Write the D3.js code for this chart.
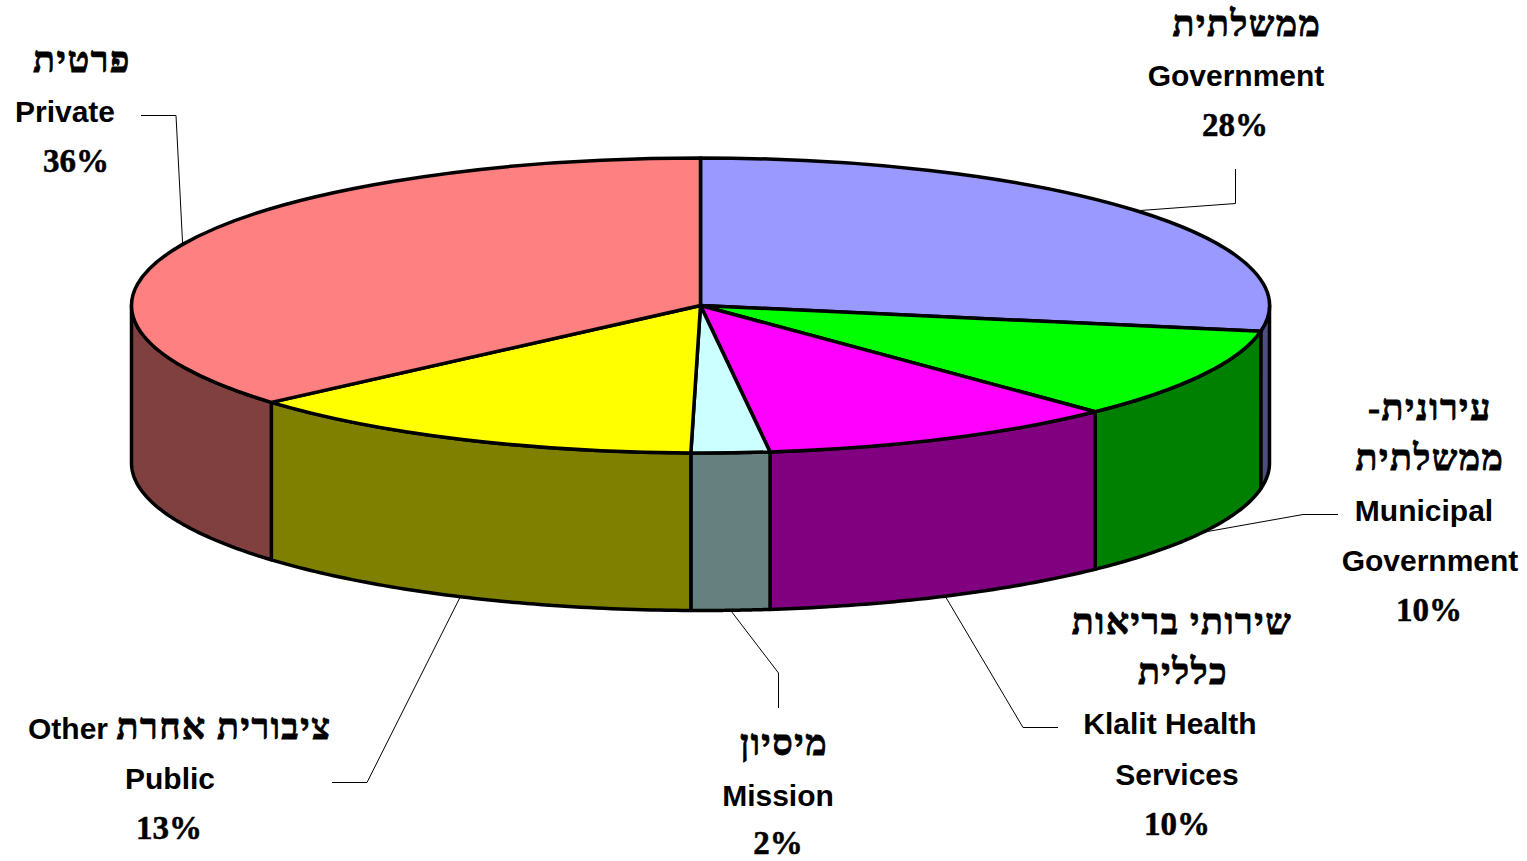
<!DOCTYPE html>
<html>
<head>
<meta charset="utf-8">
<title>pie</title>
<script src="https://cdnjs.cloudflare.com/ajax/libs/d3/7.8.5/d3.min.js"></script>
<style>
  html, body { margin: 0; padding: 0; background: #fff; }
  svg { display: block; }
  .top, .side { stroke: #000; stroke-width: 3.5px; stroke-linejoin: round; vector-effect: non-scaling-stroke; }
  .leader { fill: none; stroke: #000; stroke-width: 1px; }
  .he { font-family: "Liberation Serif", serif; font-weight: bold; font-size: 36px; letter-spacing: 1.5px; stroke: #000; stroke-width: 0.8px; direction: rtl; }
  .en { font-family: "Liberation Sans", sans-serif; font-weight: bold; font-size: 30px; }
  .pct { font-family: "Liberation Serif", serif; font-weight: bold; font-size: 33px; stroke: #000; stroke-width: 0.5px; }
</style>
</head>
<body>
<div id="chart"></div>
<script>
(function(){

  //chart values, shares (printed labels are rounded)
  var categories = ["Government", "Municipal Government", "Klalit Health Services", "Mission", "Other Public", "Private"];
  var shares = [27.8, 10.0, 10.25, 2.22, 13.33, 36.4];
  var percentLabels = ["28%", "10%", "10%", "2%", "13%", "36%"];
  var hebrewLines = [["ממשלתית"], ["עירונית-", "ממשלתית"], ["שירותי בריאות", "כללית"], ["מיסיון"], ["ציבורית אחרת"], ["פרטית"]];
  var englishLines = [["Government"], ["Municipal", "Government"], ["Klalit Health", "Services"], ["Mission"], ["Other", "Public"], ["Private"]];
  var topColors = ["#9999ff", "#00ff00", "#ff00ff", "#ccffff", "#ffff00", "#ff8080"];
  var sideColors = ["#4d4d80", "#008000", "#800080", "#668080", "#808000", "#804040"];

  //frame and pie dimensions
  var width = 1527,
      height = 861,
      cx = 700.5,
      cy = 305.5,
      rx = 569,
      ry = 147.5,
      depth = 157.5;

  //leader line elbow and end for each slice
  var leaders = [
    [[1235.5, 203.5], [1235.5, 169]],
    [[1303, 514.5], [1338, 514.5]],
    [[1023, 727.5], [1058, 727.5]],
    [[778.5, 673], [778.5, 708]],
    [[367, 782.5], [332, 782.5]],
    [[176, 115.5], [141, 115.5]]
  ];

  //label lines, one x and baseline for each line in reading order hebrew, english, percent
  var labelPlaces = [
    [[1247, 36], [1236, 86], [1235, 136]],
    [[1430, 420], [1430, 470], [1424, 521], [1430, 571], [1429, 621]],
    [[1182, 634], [1183, 684], [1170, 734], [1177, 785], [1177, 835]],
    [[784, 755], [778, 806], [778, 854]],
    [[224, 739], [68, 739], [170, 789], [169, 839]],
    [[82, 72], [65, 122], [76, 172]]
  ];

  var svg = d3.select("#chart")
    .append("svg")
    .attr("width", width)
    .attr("height", height);

  //pie layout keeps the data order, clockwise from twelve o'clock
  var pie = d3.pie().sort(null).value(function(d){ return d; });
  var slices = pie(shares);

  //ellipse scales from unit circle to the page
  var xScale = d3.scaleLinear().domain([-1, 1]).range([cx - rx, cx + rx]);
  var yScale = d3.scaleLinear().domain([-1, 1]).range([cy - ry, cy + ry]);

  function rimPoint(angle, drop){
    return [xScale(Math.sin(angle)), yScale(-Math.cos(angle)) + drop];
  }

  var line = d3.line();

  //side wall of a slice, only the part in front of the pie is visible
  function sidePath(d){
    var a0 = Math.max(d.startAngle, Math.PI / 2),
        a1 = Math.min(d.endAngle, Math.PI * 1.5);
    if (a1 <= a0) return null;
    var steps = d3.range(0, 61).map(function(i){ return a0 + (a1 - a0) * i / 60; });
    var upper = steps.map(function(a){ return rimPoint(a, 0); });
    var lower = steps.slice().reverse().map(function(a){ return rimPoint(a, depth); });
    return line(upper.concat(lower)) + "Z";
  }

  //leader lines go under the pie
  svg.selectAll(".leader")
    .data(slices)
    .enter()
    .append("path")
    .attr("class", "leader")
    .attr("d", function(d, i){
      var mid = (d.startAngle + d.endAngle) / 2;
      var front = Math.cos(mid) < 0;
      return line([rimPoint(mid, front ? depth : 0)].concat(leaders[i]));
    });

  svg.selectAll(".side")
    .data(slices)
    .enter()
    .append("path")
    .attr("class", "side")
    .attr("d", sidePath)
    .style("fill", function(d, i){ return sideColors[i]; });

  //top face drawn round, then squashed to the ellipse
  var arc = d3.arc().innerRadius(0).outerRadius(rx);

  svg.append("g")
    .attr("transform", "translate(" + cx + "," + cy + ") scale(1," + (ry / rx) + ")")
    .selectAll(".top")
    .data(slices)
    .enter()
    .append("path")
    .attr("class", "top")
    .attr("d", arc)
    .style("fill", function(d, i){ return topColors[i]; });

  //labels
  categories.forEach(function(cat, i){
    var rows = [];
    hebrewLines[i].forEach(function(t){ rows.push({ text: t, cls: "he" }); });
    englishLines[i].forEach(function(t){ rows.push({ text: t, cls: "en" }); });
    rows.push({ text: percentLabels[i], cls: "pct" });

    svg.append("g")
      .attr("class", "label")
      .selectAll("text")
      .data(rows)
      .enter()
      .append("text")
      .attr("class", function(r){ return r.cls; })
      .attr("text-anchor", "middle")
      .attr("x", function(r, k){ return labelPlaces[i][k][0]; })
      .attr("y", function(r, k){ return labelPlaces[i][k][1]; })
      .text(function(r){ return r.text; });
  });

})();
</script>
</body>
</html>
